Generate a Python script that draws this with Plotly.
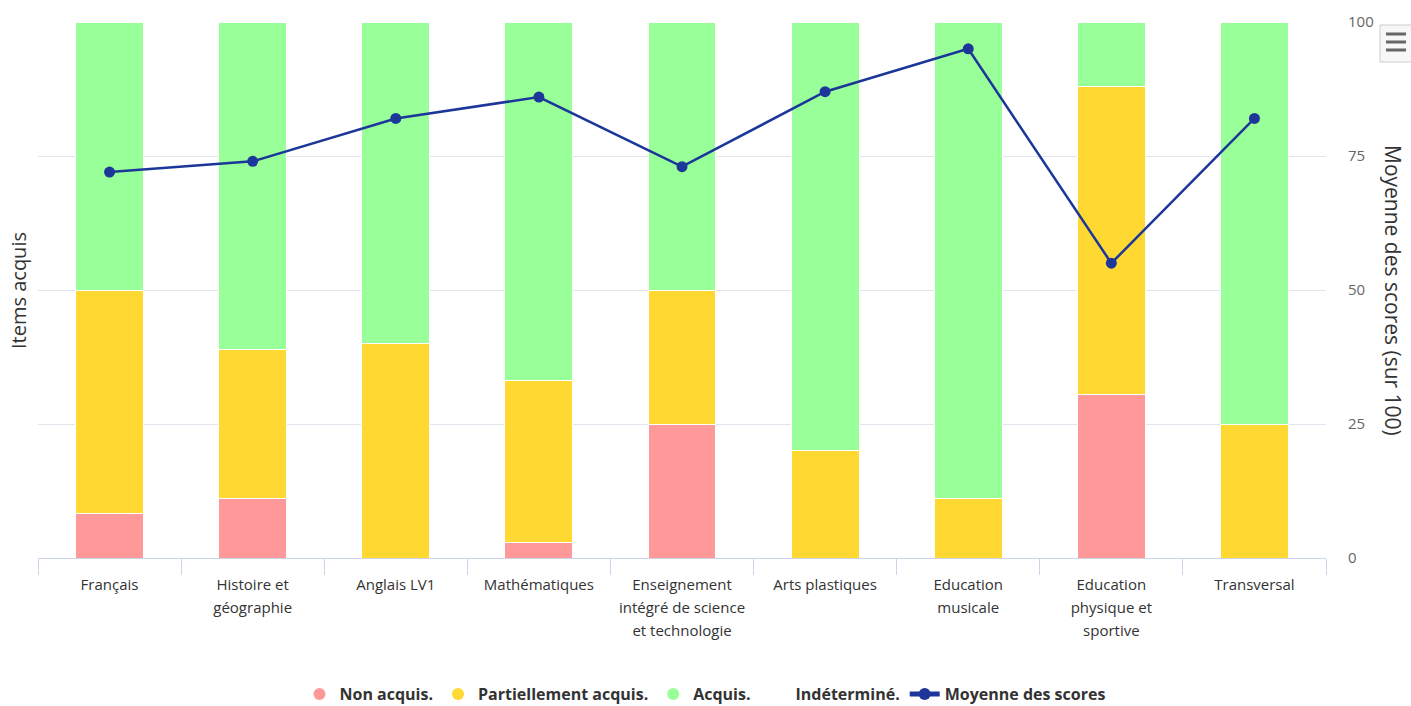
import plotly.graph_objects as go

categories = ["Français", "Histoire et<br>géographie", "Anglais LV1", "Mathématiques",
              "Enseignement<br>intégré de science<br>et technologie", "Arts plastiques",
              "Education<br>musicale", "Education<br>physique et<br>sportive", "Transversal"]
non_acquis = [8.3, 11.1, 0, 2.9, 25, 0, 0, 30.5, 0]
partiel = [41.7, 27.8, 40, 30.3, 25, 20, 11.1, 57.5, 25]
acquis = [50, 61.1, 60, 66.8, 50, 80, 88.9, 12, 75]
indetermine = [0, 0, 0, 0, 0, 0, 0, 0, 0]
moyenne = [72, 74, 82, 86, 73, 87, 95, 55, 82]
y_ticks = [0, 25, 50, 75, 100]

RED = "#ff9999"
YEL = "#ffd932"
GRN = "#99ff99"
BLUE = "#1c3799"
FONT = "Open Sans, sans-serif"

W, H = 1411, 706
L, R, T, B = 38, 85, 22, 148
pw, ph = W - L - R, H - T - B

def px(x):
    return (x - L) / pw

def py(y):
    return (H - B - y) / ph

tick_text = ["<span style='font-size:15px'>" + c.replace("<br>", "</span><br><span style='font-size:15px'>") + "</span>"
             for c in categories]

fig = go.Figure()
for name, vals, col in [("Non acquis.", non_acquis, RED), ("Partiellement acquis.", partiel, YEL),
                        ("Acquis.", acquis, GRN), ("Indéterminé.", indetermine, "rgba(0,0,0,0)")]:
    fig.add_trace(go.Bar(x=categories, y=vals, name=name, marker_color=col,
                         marker_line_color="white", marker_line_width=1,
                         showlegend=False, yaxis="y"))
    fig.add_trace(go.Scatter(x=[None], y=[None], mode="markers", name=name,
                             marker=dict(symbol="circle", size=14, color=col)))

fig.add_trace(go.Scatter(x=categories, y=moyenne, name="Moyenne des scores", yaxis="y2",
                         mode="lines+markers", line=dict(color=BLUE, width=2.5),
                         marker=dict(symbol="circle", size=11, color=BLUE)))

fig.update_layout(
    width=W, height=H,
    margin=dict(l=L, r=R, t=T, b=B, autoexpand=False),
    plot_bgcolor="white", paper_bgcolor="white",
    barmode="stack", bargap=0.525,
    font=dict(family=FONT, size=15, color="#333333"),
    xaxis=dict(showline=True, linecolor="#ccd6eb", linewidth=1, ticks="outside",
               tickson="boundaries", ticklen=16, tickcolor="#ccd6eb",
               tickmode="array", tickvals=categories, ticktext=tick_text,
               tickfont=dict(size=18, color="#333333"), showgrid=False, automargin=False,
               ticklabelstandoff=9),
    yaxis=dict(range=[0, 100], tickvals=y_ticks, showticklabels=False, gridcolor="#e0e5ee",
               gridwidth=1, zeroline=False, fixedrange=True, automargin=False),
    yaxis2=dict(range=[0, 100], tickvals=y_ticks, overlaying="y", side="right", showgrid=False,
                zeroline=False, tickfont=dict(size=15, color="#666666"), ticklabelstandoff=21,
                automargin=False),
    legend=dict(orientation="h", traceorder="normal", x=px(705), xanchor="center",
                y=py(694), yanchor="middle",
                font=dict(size=16, color="#333333", weight="bold"), itemsizing="constant"),
    showlegend=True,
)

fig.add_annotation(text="Items acquis", textangle=-90, xref="paper", yref="paper",
                   x=px(18), y=py(291), showarrow=False, font=dict(size=20, color="#333333"),
                   xanchor="center", yanchor="middle")
fig.add_annotation(text="Moyenne des scores (sur 100)", textangle=90, xref="paper", yref="paper",
                   x=px(1393), y=py(290), showarrow=False, font=dict(size=21, color="#333333"),
                   xanchor="center", yanchor="middle")

# export menu button
fig.add_shape(type="rect", xref="paper", yref="paper", x0=px(1380), x1=px(1412), y0=py(62), y1=py(25),
              line=dict(color="#cccccc", width=1), fillcolor="#f7f7f7", layer="above")
for yy in [34, 42, 50]:
    fig.add_shape(type="line", xref="paper", yref="paper", x0=px(1386), x1=px(1406), y0=py(yy), y1=py(yy),
                  line=dict(color="#666666", width=3), layer="above")

fig.write_html("out.html", config={"displayModeBar": False},
               post_script="document.body.style.margin='0';document.body.style.overflow='hidden';")
